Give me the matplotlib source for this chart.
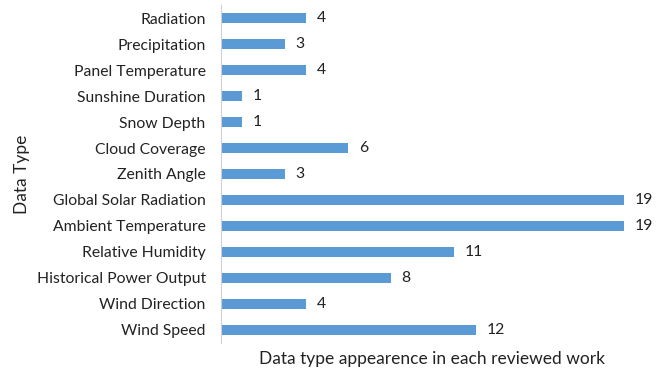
import matplotlib
matplotlib.use("Agg")
import matplotlib.pyplot as plt

categories = ["Wind Speed", "Wind Direction", "Historical Power Output", "Relative Humidity",
              "Ambient Temperature", "Global Solar Radiation", "Zenith Angle", "Cloud Coverage",
              "Snow Depth", "Sunshine Duration", "Panel Temperature", "Precipitation", "Radiation"]
counts = [12, 4, 8, 11, 19, 19, 3, 6, 1, 1, 4, 3, 4]

plt.rcParams['font.family'] = ['Lato', 'DejaVu Sans']

fig = plt.figure(figsize=(6.67, 3.71), dpi=100)
ax = fig.add_axes([0.3313, 0.0755, 0.633, 0.911])

ypos = range(len(categories))
ax.barh(ypos, counts, height=0.38, color='#5B9BD5')
for y, v in zip(ypos, counts):
    ax.text(v + 0.5, y, str(v), va='center', ha='left', fontsize=11.3, color='#222222')

ax.set_yticks(list(ypos))
ax.set_yticklabels(categories, fontsize=11.3, color='#222222')
ax.set_ylim(-0.5, len(categories) - 0.5)
ax.set_xlim(0, 19.9)
ax.set_xticks([])
ax.tick_params(axis='y', length=0, pad=11)
for s in ['top', 'right', 'bottom']:
    ax.spines[s].set_visible(False)
ax.spines['left'].set_color('#d0d0d0')

ax.set_xlabel("Data type appearence in each reviewed work", fontsize=12.5, color='#222222', labelpad=6)
ax.set_ylabel("Data Type", fontsize=12.5, color='#222222')
ax.yaxis.set_label_coords(-0.452, 0.5)

fig.savefig("out.png", dpi=100)
